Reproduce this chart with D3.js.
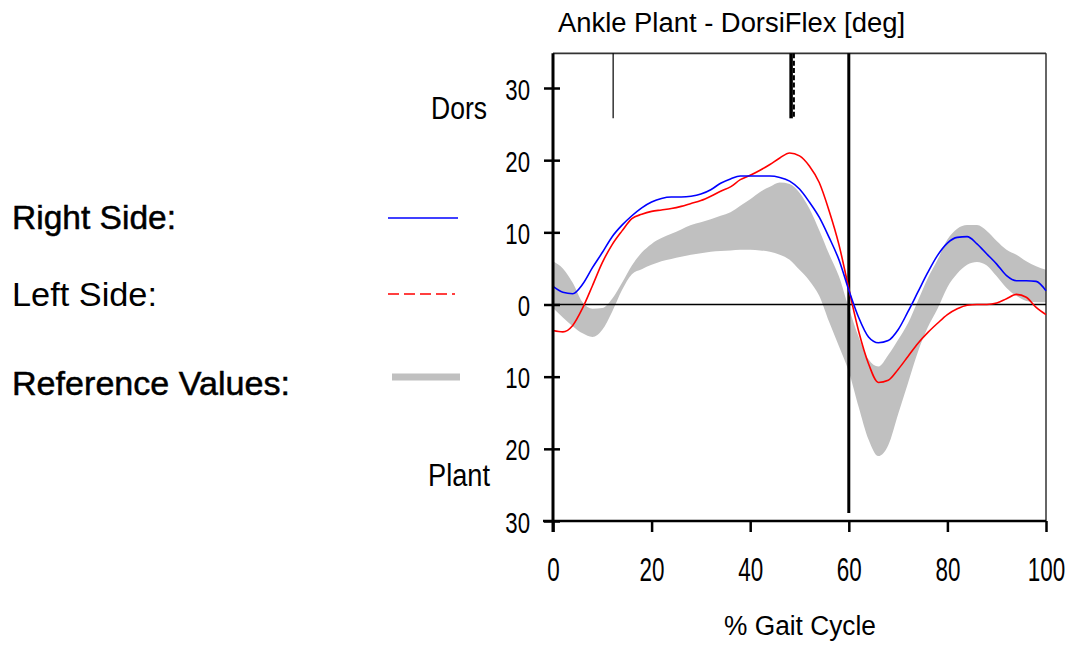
<!DOCTYPE html>
<html>
<head>
<meta charset="utf-8">
<script src="https://cdn.jsdelivr.net/npm/d3@7"></script>
<style>
  html, body { margin: 0; padding: 0; background: #fff; }
  svg { display: block; }
  text { font-family: "Liberation Sans", Arial, sans-serif; fill: #000; }
</style>
</head>
<body>
<svg id="chart" width="1076" height="646"></svg>
<script>
// ---- data ----
const gaitPct = [0,2,4,6,8,10,12,14,16,18,20,22,24,26,28,30,32,34,36,38,40,42,44,46,48,50,
                 52,54,56,58,60,62,64,66,68,70,72,74,76,78,80,82,84,86,88,90,92,94,96,98,100];
const rightSide = [2.5,1.7,1.5,2.8,5.1,7.2,9.4,11.0,12.3,13.4,14.2,14.7,14.9,14.9,15.0,15.3,15.9,16.8,17.4,17.8,17.8,17.8,17.8,17.6,17.1,16.0,
                   14.2,12.1,9.3,6.2,2.0,-1.8,-4.5,-5.3,-5.0,-3.5,-1.0,1.7,4.4,6.8,8.5,9.3,9.4,8.4,7.0,5.6,4.0,3.3,3.3,3.2,1.9];
const leftSide = [-3.6,-3.8,-2.9,-0.5,2.6,5.8,8.3,10.2,11.9,12.5,12.9,13.1,13.3,13.6,14.0,14.4,15.0,15.7,16.3,17.3,17.9,18.6,19.4,20.3,21.0,20.6,
                  19.2,16.9,13.0,8.3,2.2,-3.7,-8.2,-10.8,-10.5,-9.0,-7.2,-5.4,-3.9,-2.6,-1.4,-0.6,-0.1,0,0,0.2,0.8,1.4,1.0,-0.4,-1.4];
const refUpper = [6.0,5.0,3.0,0.3,-0.6,-0.5,0.8,3.0,5.4,7.2,8.4,9.2,9.8,10.4,11.0,11.4,11.8,12.3,12.8,13.7,14.6,15.6,16.3,16.9,16.7,15.5,
                  13.3,10.3,7.0,3.9,-0.5,-4.5,-7.6,-8.6,-7.0,-4.9,-2.6,0.5,3.6,6.2,9.0,10.5,11.0,11.0,10.2,8.8,7.6,6.9,6.0,5.3,4.8];
const refLower = [-0.5,-1.8,-3.0,-4.0,-4.5,-3.5,-1.0,2.0,4.2,4.9,5.5,6.0,6.3,6.6,6.9,7.1,7.3,7.4,7.5,7.6,7.6,7.5,7.3,6.9,6.2,4.8,
                  3.3,1.2,-2.4,-5.8,-9.3,-14.2,-18.7,-21.0,-19.5,-15.2,-10.9,-6.6,-3.2,-0.6,2.4,4.3,5.5,5.9,5.4,3.9,2.3,1.2,0.5,0.3,0.3];
const yTicks = [-30,-20,-10,0,10,20,30];
const yTickLabels = ["30","20","10","0","10","20","30"];
const xTicks = [0,20,40,60,80,100];
const eventPct = [12.2, 48.5, 60];          // opposite toe off, opposite foot contact, toe off
const eventBottom = [25.8, 25.8, -28.9];    // lower end of each event marker (deg)
const legendLabels = ["Right Side:", "Left Side:", "Reference Values:"];
const titleText = "Ankle Plant - DorsiFlex [deg]";
const xTitle = "% Gait Cycle";
const dorsLabel = "Dors", plantLabel = "Plant";

// ---- layout ----
const svg = d3.select("#chart");
const x = d3.scaleLinear().domain([0, 100]).range([553, 1046]);
const y = d3.scaleLinear().domain([-30, 30]).range([521, 88]);
const yTop = y(34.8);

const series = gaitPct.map((p, i) => ({p, r: rightSide[i], l: leftSide[i], hi: refUpper[i], lo: refLower[i]}));

// reference band
svg.append("path")
  .datum(series)
  .attr("fill", "#c0c0c0")
  .attr("d", d3.area().x(d => x(d.p)).y0(d => y(d.lo)).y1(d => y(d.hi)).curve(d3.curveMonotoneX));

// frame (top/right)
svg.append("line").attr("x1", x(0)).attr("x2", x(100)).attr("y1", yTop).attr("y2", yTop)
  .attr("stroke", "#333").attr("stroke-width", 1.8);
svg.append("line").attr("x1", x(100)).attr("x2", x(100)).attr("y1", yTop).attr("y2", y(-30))
  .attr("stroke", "#333").attr("stroke-width", 1.5);

// zero line
svg.append("line").attr("x1", x(0)).attr("x2", x(100)).attr("y1", y(0)).attr("y2", y(0))
  .attr("stroke", "#000").attr("stroke-width", 1.5);

// event markers
svg.append("line").attr("x1", x(eventPct[0])).attr("x2", x(eventPct[0]))
  .attr("y1", yTop).attr("y2", y(eventBottom[0])).attr("stroke", "#000").attr("stroke-width", 1.2);
svg.append("line").attr("x1", x(eventPct[1]) - 1).attr("x2", x(eventPct[1]) - 1)
  .attr("y1", yTop).attr("y2", y(eventBottom[1])).attr("stroke", "#000").attr("stroke-width", 3.5);
svg.append("line").attr("x1", x(eventPct[1]) + 1.8).attr("x2", x(eventPct[1]) + 1.8)
  .attr("y1", yTop).attr("y2", y(eventBottom[1])).attr("stroke", "#000").attr("stroke-width", 2)
  .attr("stroke-dasharray", "5,2.3");
svg.append("line").attr("x1", x(eventPct[2])).attr("x2", x(eventPct[2]))
  .attr("y1", yTop).attr("y2", y(eventBottom[2])).attr("stroke", "#000").attr("stroke-width", 3);

// curves
const lineGen = key => d3.line().x(d => x(d.p)).y(d => y(d[key])).curve(d3.curveMonotoneX);
svg.append("path").datum(series).attr("fill", "none").attr("stroke", "#ff0000")
  .attr("stroke-width", 1.6).attr("d", lineGen("l"));
svg.append("path").datum(series).attr("fill", "none").attr("stroke", "#0000ff")
  .attr("stroke-width", 1.6).attr("d", lineGen("r"));

// y axis
const yAxis = svg.append("g").attr("transform", `translate(${x(0)},0)`)
  .call(d3.axisLeft(y).tickValues(yTicks).tickSize(9).tickFormat((d, i) => yTickLabels[i]));
yAxis.select(".domain").remove();
yAxis.selectAll(".tick line").attr("x1", 7).attr("stroke", "#000").attr("stroke-width", 2.5);
yAxis.selectAll(".tick text")
  .attr("x", 0).attr("dy", 0).attr("text-anchor", "end")
  .attr("font-size", 30)
  .attr("transform", "translate(-23,11) scale(0.74,1)");
svg.append("line").attr("x1", x(0)).attr("x2", x(0)).attr("y1", yTop).attr("y2", y(-30) + 11)
  .attr("stroke", "#000").attr("stroke-width", 3);

// x axis
const xAxis = svg.append("g").attr("transform", `translate(0,${y(-30)})`)
  .call(d3.axisBottom(x).tickValues(xTicks).tickSize(11));
xAxis.select(".domain").remove();
xAxis.selectAll(".tick line").attr("stroke", "#000").attr("stroke-width", 2.5);
xAxis.selectAll(".tick text")
  .attr("y", 0).attr("dy", 0)
  .attr("font-size", 33)
  .attr("transform", "translate(0,60) scale(0.68,1)");
svg.append("line").attr("x1", x(0) - 10).attr("x2", x(100)).attr("y1", y(-30)).attr("y2", y(-30))
  .attr("stroke", "#000").attr("stroke-width", 2.5);

// titles
svg.append("text").attr("x", 558).attr("y", 32).attr("font-size", 27)
  .attr("textLength", 347).attr("lengthAdjust", "spacingAndGlyphs").text(titleText);
svg.append("text").attr("x", 724).attr("y", 635).attr("font-size", 27)
  .attr("textLength", 152).attr("lengthAdjust", "spacingAndGlyphs").text(xTitle);
svg.append("text").attr("x", 431).attr("y", 119).attr("font-size", 31)
  .attr("textLength", 56).attr("lengthAdjust", "spacingAndGlyphs").text(dorsLabel);
svg.append("text").attr("x", 428).attr("y", 486).attr("font-size", 31)
  .attr("textLength", 62).attr("lengthAdjust", "spacingAndGlyphs").text(plantLabel);

// legend
const legendY = [229, 306, 395];
const legendW = [164, 145, 278];
legendLabels.forEach((t, i) => {
  svg.append("text").attr("x", 12).attr("y", legendY[i]).attr("font-size", 33)
    .attr("stroke", "#000").attr("stroke-width", i === 1 ? 0 : 0.5)
    .attr("textLength", legendW[i]).attr("lengthAdjust", "spacingAndGlyphs").text(t);
});
svg.append("line").attr("x1", 388).attr("x2", 458).attr("y1", 218).attr("y2", 218)
  .attr("stroke", "#0000ff").attr("stroke-width", 1.6);
svg.append("line").attr("x1", 388).attr("x2", 457).attr("y1", 294).attr("y2", 294)
  .attr("stroke", "#ff0000").attr("stroke-width", 1.6)
  .attr("stroke-dasharray", "11,5,11,5,11,5,11,5,3,20");
svg.append("line").attr("x1", 392).attr("x2", 460).attr("y1", 377).attr("y2", 377)
  .attr("stroke", "#c0c0c0").attr("stroke-width", 7);
</script>
</body>
</html>
